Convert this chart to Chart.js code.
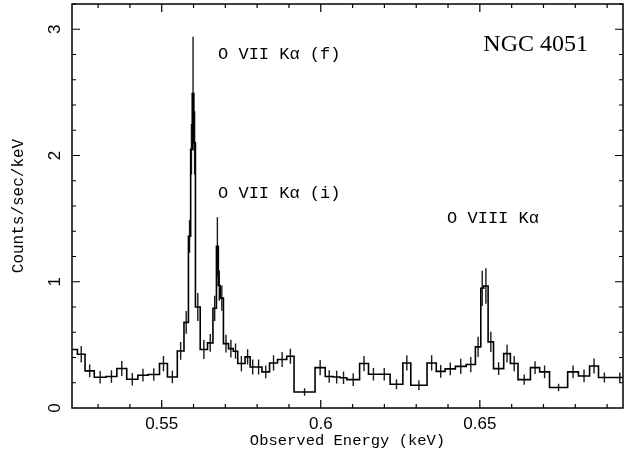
<!DOCTYPE html>
<html>
<head>
<meta charset="utf-8">
<script src="https://cdn.jsdelivr.net/npm/chart.js@4"></script>
<style>
  body { margin: 0; background: #fff; }
  canvas { display: block; }
</style>
</head>
<body>
<canvas id="spectrum" width="627" height="462"></canvas>
<script>
// bin edges (keV), counts/sec/keV per bin, and 1-sigma errors
const binEdges = [0.5200, 0.5235, 0.5259, 0.5288, 0.5325, 0.5359, 0.5390, 0.5425, 0.5457, 0.5493,
  0.5518, 0.5549, 0.5570, 0.5584, 0.5591, 0.5596, 0.5601, 0.5606, 0.5621, 0.5644,
  0.5661, 0.5672, 0.5678, 0.5684, 0.5694, 0.5710, 0.5725, 0.5739, 0.5762, 0.5778,
  0.5794, 0.5815, 0.5839, 0.5864, 0.5893, 0.5916, 0.5982, 0.6014, 0.6039, 0.6061,
  0.6082, 0.6122, 0.6150, 0.6181, 0.6218, 0.6258, 0.6283, 0.6334, 0.6363, 0.6391,
  0.6423, 0.6457, 0.6486, 0.6503, 0.6512, 0.6526, 0.6543, 0.6575, 0.6596, 0.6620,
  0.6659, 0.6688, 0.6719, 0.6776, 0.6810, 0.6845, 0.6873, 0.6910, 0.6970]
const counts = [0.463, 0.426, 0.294, 0.244, 0.25, 0.313, 0.228, 0.26, 0.265, 0.352,
  0.246, 0.452, 0.678, 1.36, 2.05, 2.49, 2.1, 0.80, 0.463, 0.516,
  0.79, 1.28, 0.97, 0.87, 0.51, 0.47, 0.45, 0.352, 0.405, 0.325,
  0.325, 0.286, 0.357, 0.384, 0.41, 0.127, 0.32, 0.25, 0.245, 0.24,
  0.225, 0.352, 0.267, 0.267, 0.188, 0.357, 0.18, 0.357, 0.29, 0.31,
  0.33, 0.344, 0.484, 0.948, 0.966, 0.524, 0.312, 0.431, 0.352, 0.225,
  0.32, 0.286, 0.162, 0.286, 0.254, 0.333, 0.241, 0.241]
const errors = [0.07, 0.065, 0.05, 0.05, 0.05, 0.06, 0.05, 0.05, 0.05, 0.06,
  0.05, 0.07, 0.09, 0.13, 0.2, 0.45, 0.25, 0.11, 0.075, 0.07,
  0.1, 0.23, 0.12, 0.1, 0.07, 0.07, 0.06, 0.06, 0.06, 0.06,
  0.06, 0.05, 0.06, 0.06, 0.06, 0.03, 0.06, 0.05, 0.05, 0.05,
  0.05, 0.06, 0.05, 0.05, 0.04, 0.06, 0.04, 0.06, 0.05, 0.05,
  0.06, 0.06, 0.08, 0.14, 0.14, 0.08, 0.05, 0.07, 0.06, 0.04,
  0.05, 0.05, 0.03, 0.05, 0.05, 0.06, 0.04, 0.04]

const xTicks = [0.55, 0.6, 0.65]
const yTicks = [0, 1, 2, 3]

// line labels: [text, energy, level]
const lineLabels = [
  ['O VII Kα (f)', 0.5677, 2.80],
  ['O VII Kα (i)', 0.5677, 1.70],
  ['O VIII Kα', 0.6397, 1.50]
]
const sourceName = ['NGC 4051', 0.6511, 2.88]

// step outline: one point per edge, last edge repeats the last value
const stepPoints = binEdges.map((e, i) => ({ x: e, y: counts[Math.min(i, counts.length - 1)] }))

// vertical error bars at bin centres, broken with nulls
const errPoints = []
counts.forEach((c, i) => {
  const mid = (binEdges[i] + binEdges[i + 1]) / 2
  errPoints.push({ x: mid, y: c - errors[i] }, { x: mid, y: c + errors[i] }, { x: mid, y: null })
})

const frameTicks = {
  id: 'frameTicks',
  afterDatasetsDraw(chart) {
    const { ctx, chartArea: a, scales: { x, y } } = chart
    ctx.save()
    ctx.strokeStyle = '#000'
    ctx.lineWidth = 1.5
    ctx.strokeRect(a.left, a.top, a.right - a.left, a.bottom - a.top)

    ctx.lineWidth = 1.2
    ctx.beginPath()
    for (let k = 53; k <= 69; k++) {
      const px = x.getPixelForValue(k / 100)
      const len = k % 5 === 0 ? 8 : 4
      ctx.moveTo(px, a.bottom); ctx.lineTo(px, a.bottom - len)
      ctx.moveTo(px, a.top); ctx.lineTo(px, a.top + len)
    }
    for (let k = 1; k <= 16; k++) {
      const py = y.getPixelForValue(k * 0.2)
      const len = k % 5 === 0 ? 8 : 4
      ctx.moveTo(a.left, py); ctx.lineTo(a.left + len, py)
      ctx.moveTo(a.right, py); ctx.lineTo(a.right - len, py)
    }
    ctx.stroke()

    ctx.fillStyle = '#000'
    ctx.textBaseline = 'middle'
    ctx.textAlign = 'left'
    ctx.font = '17px "Liberation Mono"'
    lineLabels.forEach(([t, e, v]) => {
      ctx.fillText(t, x.getPixelForValue(e), y.getPixelForValue(v))
    })
    ctx.font = '24px "Liberation Serif"'
    ctx.fillText(sourceName[0], x.getPixelForValue(sourceName[1]), y.getPixelForValue(sourceName[2]))
    ctx.restore()
  }
}

// keep the plot frame where the picture has it
function noPad(s) {
  s.paddingTop = 0
  s.paddingBottom = 0
  s.paddingLeft = 0
  s.paddingRight = 0
}

new Chart(document.getElementById('spectrum'), {
  type: 'line',
  data: {
    datasets: [{
      data: stepPoints,
      stepped: true,
      borderColor: '#000',
      borderWidth: 1.6,
      pointRadius: 0,
      fill: false
    }, {
      data: errPoints,
      borderColor: '#1a1a1a',
      borderWidth: 1.4,
      pointRadius: 0,
      spanGaps: false,
      fill: false
    }]
  },
  options: {
    responsive: false,
    animation: false,
    layout: { padding: { top: 4, right: 4, left: 0, bottom: 0 } },
    plugins: { legend: { display: false }, tooltip: { enabled: false } },
    scales: {
      x: {
        type: 'linear',
        min: 0.5218,
        max: 0.695,
        grid: { display: false, drawTicks: false },
        border: { display: false },
        afterBuildTicks: s => { s.ticks = xTicks.map(v => ({ value: v })) },
        afterFit: s => { s.height = 54; noPad(s) },
        ticks: {
          color: '#000',
          padding: 6,
          font: { family: 'Liberation Sans', size: 17 },
          callback: v => String(v)
        },
        title: {
          display: true,
          text: 'Observed Energy (keV)',
          color: '#000',
          font: { family: 'Liberation Mono', size: 15.5 },
          padding: { top: 0, bottom: 12 }
        }
      },
      y: {
        min: 0,
        max: 3.2,
        grid: { display: false, drawTicks: false },
        border: { display: false },
        afterBuildTicks: s => { s.ticks = yTicks.map(v => ({ value: v })) },
        afterFit: s => { s.width = 72; noPad(s) },
        ticks: {
          color: '#000',
          padding: 12,
          minRotation: 90,
          maxRotation: 90,
          crossAlign: 'center',
          font: { family: 'Liberation Sans', size: 17 },
          callback: v => String(v)
        },
        title: {
          display: true,
          text: 'Counts/sec/keV',
          color: '#000',
          font: { family: 'Liberation Mono', size: 16 },
          padding: { top: 9, bottom: 0 }
        }
      }
    }
  },
  plugins: [frameTicks]
})
</script>
</body>
</html>
